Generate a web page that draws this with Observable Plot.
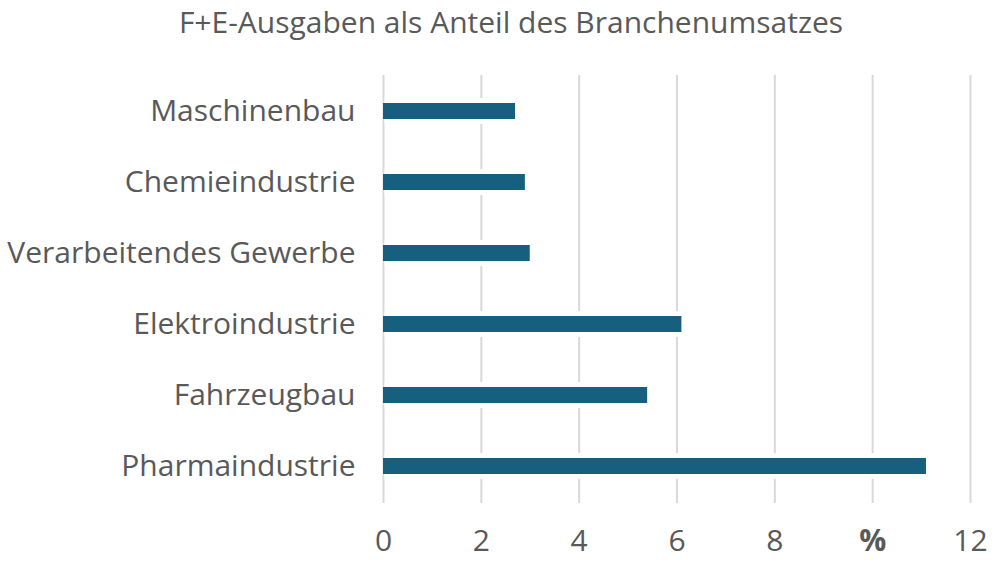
<!DOCTYPE html>
<html>
<head>
<meta charset="utf-8">
<script src="https://cdn.jsdelivr.net/npm/d3@7"></script>
<script src="https://cdn.jsdelivr.net/npm/@observablehq/plot@0.6"></script>
<style>
  body { margin: 0; background: #fff; }
  #title { height: 50px; padding-top: 1px; line-height: 42px; font-family: "Open Sans", sans-serif; font-size: 30px; color: #595959; text-align: center; padding-left: 22px; box-sizing: border-box; width: 1000px; }
</style>
</head>
<body>
<div id="title">F+E-Ausgaben als Anteil des Branchenumsatzes</div>
<div id="chart"></div>
<script>
const categories = ["Maschinenbau", "Chemieindustrie", "Verarbeitendes Gewerbe", "Elektroindustrie", "Fahrzeugbau", "Pharmaindustrie"];
const values = [2.7, 2.9, 3.0, 6.1, 5.4, 11.1];
const tickValues = [0, 2, 4, 6, 8, 10, 12];
const tickLabels = ["0", "2", "4", "6", "8", "%", "12"];

const data = categories.map((c, i) => ({category: c, value: values[i]}));

const plot = Plot.plot({
  width: 1000,
  height: 514,
  marginTop: 25,
  marginBottom: 61,
  marginLeft: 383,
  marginRight: 30,
  style: {fontFamily: "'Open Sans', sans-serif", color: "#595959", background: "#fff"},
  x: {domain: [0, 12], ticks: tickValues, label: null},
  y: {domain: categories, paddingInner: 0.77, paddingOuter: 0.385, label: null},
  marks: [
    Plot.ruleX(tickValues, {stroke: "#d9d9d9", strokeWidth: 2}),
    Plot.barX(data, {x: "value", y: "category", fill: "#fff", insetTop: -5, insetBottom: -5, insetLeft: 1.5, insetRight: -3}),
    Plot.barX(data, {x: "value", y: "category", fill: "#175f7f"}),
    Plot.axisX({ticks: tickValues, tickFormat: d => tickLabels[tickValues.indexOf(d)], tickSize: 0, tickPadding: 26, fontSize: 30, fill: "#595959", label: null}),
    Plot.axisY({tickSize: 0, tickPadding: 28, fontSize: 30, fill: "#595959", label: null})
  ]
});
document.getElementById("chart").appendChild(plot);
d3.select(plot).selectAll("text").filter(function() { return this.textContent === "%"; }).style("font-weight", "bold");
</script>
</body>
</html>
